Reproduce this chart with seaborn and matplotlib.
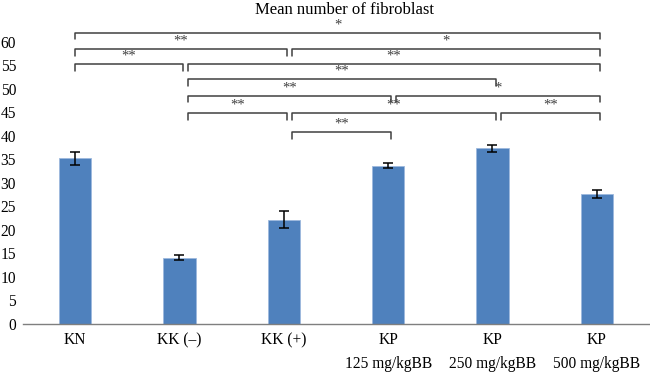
import matplotlib
matplotlib.use("Agg")
import matplotlib.pyplot as plt
import seaborn as sns
import pandas as pd

categories = ["KN", "KK (\u2013)", "KK (+)", "KP\n125 mg/kgBB", "KP\n250 mg/kgBB", "KP\n500 mg/kgBB"]
means = [35.2, 14.1, 22.2, 33.6, 37.3, 27.7]
errors = [1.35, 0.6, 1.8, 0.55, 0.85, 0.85]
y_ticks = [0, 5, 10, 15, 20, 25, 30, 35, 40, 45, 50, 55, 60]

# significance brackets: (from group, to group, height, label)
sig_from = [0, 0, 2, 0, 1, 1, 1, 3, 1, 2, 4, 2]
sig_to = [5, 2, 5, 1, 5, 4, 3, 5, 2, 4, 5, 3]
sig_height = [61.9, 58.4, 58.4, 55.2, 55.2, 52.0, 48.5, 48.5, 44.8, 44.8, 44.8, 40.8]
sig_label = ["*", "**", "*", "**", "**", "**", "**", "*", "**", "**", "**", "**"]

df = pd.DataFrame({"group": categories, "mean": means})

sns.set_theme(style="white")
plt.rcParams["font.family"] = ["Liberation Serif", "DejaVu Serif"]

fig = plt.figure(figsize=(6.5, 3.73), dpi=100)
ax = fig.add_axes([0.0354, 0.1314, 0.963, 0.7568])

bar_color = "#4F81BD"
sns.barplot(data=df, x="group", y="mean", color=bar_color, width=0.31,
            saturation=1, edgecolor="#9DB9DE", linewidth=0.6, ax=ax)
ax.errorbar(range(len(categories)), means, yerr=errors, fmt="none",
            ecolor="black", elinewidth=1.1, capsize=3.5, capthick=1.1, zorder=5)

ax.set_xlim(-0.5, len(categories) - 0.5)
ax.set_ylim(0, 60)
ax.set_yticks(y_ticks)
ax.set_xlabel("")
ax.set_ylabel("")
for s in ["top", "right", "left"]:
    ax.spines[s].set_visible(False)
ax.spines["bottom"].set_color("#7f7f7f")
ax.spines["bottom"].set_linewidth(1.0)
ax.tick_params(axis="y", length=0, pad=5, labelsize=11.2, colors="black")
ax.tick_params(axis="x", length=0, pad=6, labelsize=11.2, colors="black")
for lbl in ax.get_xticklabels():
    lbl.set_linespacing(1.6)
    lbl.set_verticalalignment("top")

tick_len = 1.4
for a, b, h, lab in zip(sig_from, sig_to, sig_height, sig_label):
    x0 = a + (0.08 if a > 0 else 0.0)
    x1 = b + 0.03
    ax.plot([x0, x0, x1, x1], [h - tick_len, h, h, h - tick_len],
            color="#404040", lw=1.1, clip_on=False, zorder=4)
    ax.text((x0 + x1) / 2, h + 0.3, lab, ha="center", va="bottom",
            fontsize=10.5, color="#404040", clip_on=False)

fig.text(0.53, 0.972, "Mean number of fibroblast", ha="center", va="center",
         fontsize=12, color="black")

fig.savefig("out.png", dpi=100)
